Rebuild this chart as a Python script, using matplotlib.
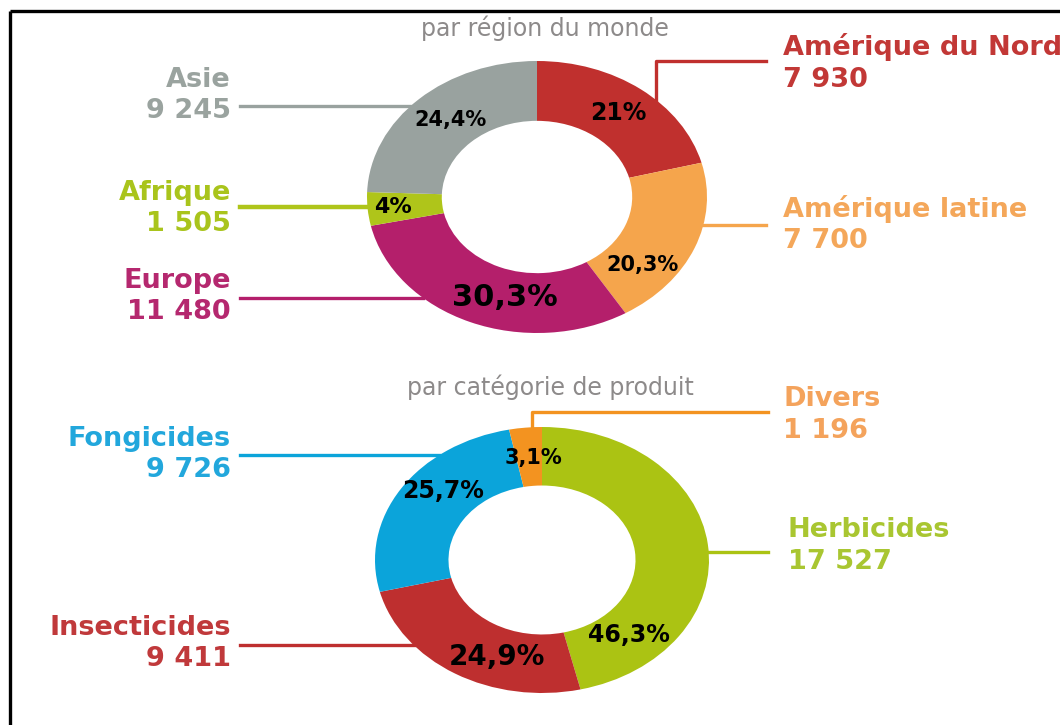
import numpy as np
import matplotlib
matplotlib.use("Agg")
import matplotlib.pyplot as plt

# --- données ---
region_names = ["Amérique du Nord", "Amérique latine", "Europe", "Afrique", "Asie"]
region_values = [7930, 7700, 11480, 1505, 9245]
region_pct = ["21%", "20,3%", "30,3%", "4%", "24,4%"]
region_colors = ["#c0302e", "#f5a54c", "#b41f6b", "#afc51a", "#99a29f"]
region_text_colors = ["#c23836", "#f4a75a", "#b5286f", "#a9c41c", "#9aa39f"]

produit_names = ["Herbicides", "Insecticides", "Fongicides", "Divers"]
produit_values = [17527, 9411, 9726, 1196]
produit_pct = ["46,3%", "24,9%", "25,7%", "3,1%"]
produit_colors = ["#abc313", "#be2f2f", "#0ba4da", "#f39320"]
produit_text_colors = ["#a9c631", "#c0393b", "#22a7dc", "#f4a35c"]

W, H = 1060, 725
fig = plt.figure(figsize=(W / 100, H / 100), dpi=100)
fig.patch.set_facecolor("white")

# overlay in pixel coords for text, leader lines and frame
ov = fig.add_axes([0, 0, 1, 1])
ov.set_xlim(0, W)
ov.set_ylim(H, 0)
ov.axis("off")

# frame
ov.plot([10, 10], [11, H], color="black", lw=2.4, solid_capstyle="butt")
ov.plot([10, W], [11, 11], color="black", lw=2.4, solid_capstyle="butt")


def fmt(v):
    return f"{v:,}".replace(",", " ")


def donut(cx, cy, rx, ry, values, colors, pct, pct_size, pct_off, pct_r):
    ax = fig.add_axes([(cx - rx) / W, 1 - (cy + ry) / H, 2 * rx / W, 2 * ry / H])
    wedges, _ = ax.pie(values, colors=colors, startangle=90, counterclock=False,
                       radius=1, wedgeprops=dict(width=0.44, edgecolor="none"))
    ax.set_aspect("auto")
    ax.set_xlim(-1, 1)
    ax.set_ylim(-1, 1)
    ax.axis("off")
    for w, s, fs, off, r in zip(wedges, pct, pct_size, pct_off, pct_r):
        a = np.deg2rad((w.theta1 + w.theta2) / 2 + off)
        ax.text(r * np.cos(a), r * np.sin(a), s, ha="center", va="center",
                fontsize=fs, fontweight="bold", color="black")
    return ax


def edge_x(cx, cy, rx, ry, y, side):
    return cx + side * rx * np.sqrt(1 - ((y - cy) / ry) ** 2)


def edge_y(cx, cy, rx, ry, x):
    return cy - ry * np.sqrt(1 - ((x - cx) / rx) ** 2)


lab_fs = 19.5
lab_kw = dict(fontsize=lab_fs, fontweight="bold")

# ---------------- top : par région du monde ----------------
tcx, tcy, trx, try_ = 537, 197, 170, 136
ov.text(545, 28, "par région du monde", ha="center", va="center",
        fontsize=17, color="#8d8a8a")
donut(tcx, tcy, trx, try_, region_values, region_colors, region_pct,
      [17, 15, 22, 16, 15], [0, -17, 9, 0, -2], [0.78, 0.8, 0.76, 0.85, 0.76])

# left side labels : Asie, Afrique, Europe
for i, ly, by in [(4, 106, 87), (3, 207, 200), (2, 298, 288)]:
    c = region_text_colors[i]
    ov.text(231, by, region_names[i], ha="right", va="baseline", color=c, **lab_kw)
    ov.text(231, by + 31, fmt(region_values[i]), ha="right", va="baseline", color=c, **lab_kw)
    ov.plot([240, edge_x(tcx, tcy, trx, try_, ly, -1)], [ly, ly],
            color=region_colors[i], lw=2.4 if i != 3 else 3.2)

# right side : Amérique du Nord
c = region_text_colors[0]
ov.text(783, 55, region_names[0], ha="left", va="baseline", color=c, **lab_kw)
ov.text(783, 87, fmt(region_values[0]), ha="left", va="baseline", color=c, **lab_kw)
ov.plot([766, 656, 656], [61, 61, edge_y(tcx, tcy, trx, try_, 656)],
        color=region_colors[0], lw=2.4)
# Amérique latine
c = region_text_colors[1]
ov.text(783, 217, region_names[1], ha="left", va="baseline", color=c, **lab_kw)
ov.text(783, 248, fmt(region_values[1]), ha="left", va="baseline", color=c, **lab_kw)
ov.plot([edge_x(tcx, tcy, trx, try_, 225, 1), 766], [225, 225],
        color=region_colors[1], lw=2.4)

# ---------------- bottom : par catégorie de produit ----------------
bcx, bcy, brx, bry = 542, 560, 167, 133
ov.text(550, 387, "par catégorie de produit", ha="center", va="center",
        fontsize=17, color="#8d8a8a")
donut(bcx, bcy, brx, bry, produit_values, produit_colors, produit_pct,
      [17, 20, 17, 15], [-54, 11, -9, -2], [0.77, 0.78, 0.79, 0.77])

# left : Fongicides, Insecticides
for i, ly, by in [(2, 455, 446), (1, 645, 635)]:
    c = produit_text_colors[i]
    ov.text(231, by, produit_names[i], ha="right", va="baseline", color=c, **lab_kw)
    ov.text(231, by + 31, fmt(produit_values[i]), ha="right", va="baseline", color=c, **lab_kw)
    ov.plot([240, edge_x(bcx, bcy, brx, bry, ly, -1)], [ly, ly],
            color=produit_colors[i], lw=2.4)

# right : Divers
c = produit_text_colors[3]
ov.text(783, 406, produit_names[3], ha="left", va="baseline", color=c, **lab_kw)
ov.text(783, 438, fmt(produit_values[3]), ha="left", va="baseline", color=c, **lab_kw)
ov.plot([768, 532, 532], [412, 412, edge_y(bcx, bcy, brx, bry, 532)],
        color=produit_colors[3], lw=2.4)
# Herbicides
c = produit_text_colors[0]
ov.text(788, 537, produit_names[0], ha="left", va="baseline", color=c, **lab_kw)
ov.text(788, 569, fmt(produit_values[0]), ha="left", va="baseline", color=c, **lab_kw)
ov.plot([edge_x(bcx, bcy, brx, bry, 552, 1), 768], [552, 552],
        color=produit_colors[0], lw=2.4)

fig.savefig("out.png", dpi=100, facecolor="white")
